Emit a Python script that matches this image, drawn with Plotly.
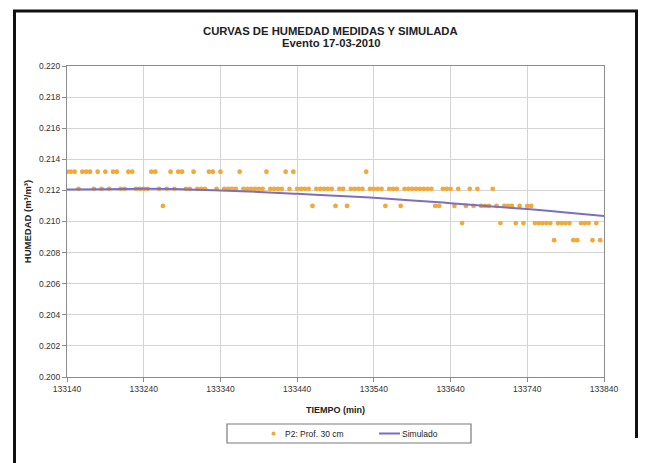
import plotly.graph_objects as go

# ---- data ----
t_start = 133140
t_step = 5
humedad_medida = [
    0.2132, 0.2132, 0.2132, 0.2121, 0.2132, 0.2132, 0.2132, 0.2121, 0.2132, 0.2121,  # 133140-133185
    0.2132, 0.2121, 0.2132, 0.2132, 0.2121, 0.2121, 0.2132, 0.2132, 0.2121, 0.2121,  # 133190-133235
    0.2121, 0.2121, 0.2132, 0.2132, 0.2121, 0.2110, 0.2121, 0.2132, 0.2121, 0.2132,  # 133240-133285
    0.2132, 0.2121, 0.2121, 0.2132, 0.2121, 0.2121, 0.2121, 0.2132, 0.2132, 0.2121,  # 133290-133335
    0.2132, 0.2121, 0.2121, 0.2121, 0.2121, 0.2132, 0.2121, 0.2121, 0.2121, 0.2121,  # 133340-133385
    0.2121, 0.2121, 0.2132, 0.2121, 0.2121, 0.2121, 0.2121, 0.2132, 0.2121, 0.2132,  # 133390-133435
    0.2121, 0.2121, 0.2121, 0.2121, 0.2110, 0.2121, 0.2121, 0.2121, 0.2121, 0.2121,  # 133440-133485
    0.2110, 0.2121, 0.2121, 0.2110, 0.2121, 0.2121, 0.2121, 0.2121, 0.2132, 0.2121,  # 133490-133535
    0.2121, 0.2121, 0.2121, 0.2110, 0.2121, 0.2121, 0.2121, 0.2110, 0.2121, 0.2121,  # 133540-133585
    0.2121, 0.2121, 0.2121, 0.2121, 0.2121, 0.2121, 0.2110, 0.2110, 0.2121, 0.2121,  # 133590-133635
    0.2121, 0.2110, 0.2121, 0.2099, 0.2110, 0.2121, 0.2110, 0.2121, 0.2110, 0.2110,  # 133640-133685
    0.2110, 0.2121, 0.2110, 0.2099, 0.2110, 0.2110, 0.2110, 0.2099, 0.2110, 0.2099,  # 133690-133735
    0.2110, 0.2110, 0.2099, 0.2099, 0.2099, 0.2099, 0.2099, 0.2088, 0.2099, 0.2099,  # 133740-133785
    0.2099, 0.2099, 0.2088, 0.2088, 0.2099, 0.2099, 0.2099, 0.2088, 0.2099, 0.2088,  # 133790-133835
]
tiempo_medido = [t_start + i * t_step for i in range(len(humedad_medida))]

tiempo_sim = [133140, 133190, 133240, 133290, 133340, 133390, 133440, 133490,
              133540, 133590, 133640, 133690, 133740, 133790, 133840]
humedad_sim = [0.21205, 0.21208, 0.21210, 0.21208, 0.21200, 0.21190, 0.21178, 0.21165,
               0.21152, 0.21135, 0.21118, 0.21098, 0.21080, 0.21058, 0.21035]

x_ticks = [133140, 133240, 133340, 133440, 133540, 133640, 133740, 133840]

titulo_1 = "CURVAS DE HUMEDAD MEDIDAS Y SIMULADA"
titulo_2 = "Evento 17-03-2010"
serie_medida = "P2: Prof. 30 cm"
serie_sim = "Simulado"

FONT = "Arial, 'Liberation Sans', sans-serif"
C_MED = "#F2A93B"
C_SIM = "#7B6FBF"

fig = go.Figure()
fig.add_trace(go.Scatter(
    x=tiempo_medido, y=humedad_medida, mode="markers", name=serie_medida,
    marker=dict(color=C_MED, size=4.8, line=dict(width=0)),
))
fig.add_trace(go.Scatter(
    x=tiempo_sim, y=humedad_sim, mode="lines", name=serie_sim,
    line=dict(color=C_SIM, width=2, shape="spline"),
))

L, R = 67, 604
T, B = 66, 377
W, H = 648, 463

def px2x(px):
    return (px - L) / (R - L)

def py2y(py):
    return (B - py) / (B - T)

# outer black frame
frame = dict(color="#111111", width=3)
fig.add_shape(type="line", xref="paper", yref="paper", x0=px2x(13), x1=px2x(638),
              y0=py2y(11), y1=py2y(11), line=frame)
fig.add_shape(type="line", xref="paper", yref="paper", x0=px2x(14.5), x1=px2x(14.5),
              y0=py2y(11), y1=py2y(463), line=frame)
fig.add_shape(type="line", xref="paper", yref="paper", x0=px2x(636.5), x1=px2x(636.5),
              y0=py2y(11), y1=py2y(438), line=frame)

# legend box (drawn by hand to match the original layout)
fig.add_shape(type="rect", xref="paper", yref="paper",
              x0=px2x(227), x1=px2x(471), y0=py2y(424), y1=py2y(443),
              line=dict(color="#7a7a7a", width=1.2), fillcolor="white")
fig.add_shape(type="circle", xref="paper", yref="paper",
              x0=px2x(271.5), x1=px2x(275.5), y0=py2y(431.5), y1=py2y(435.5),
              line=dict(width=0), fillcolor=C_MED)
fig.add_shape(type="line", xref="paper", yref="paper",
              x0=px2x(379), x1=px2x(400), y0=py2y(433.5), y1=py2y(433.5),
              line=dict(color=C_SIM, width=2))
fig.add_annotation(text=serie_medida, xref="paper", yref="paper", x=px2x(283), y=py2y(433.5),
                   xanchor="left", yanchor="middle", showarrow=False,
                   font=dict(family=FONT, size=8.5, color="#222222"))
fig.add_annotation(text=serie_sim, xref="paper", yref="paper", x=px2x(400), y=py2y(433.5),
                   xanchor="left", yanchor="middle", showarrow=False,
                   font=dict(family=FONT, size=8.5, color="#222222"))

# title (two lines placed individually)
fig.add_annotation(text="<b>" + titulo_1 + "</b>", xref="paper", yref="paper",
                   x=px2x(330), y=py2y(31), xanchor="center", yanchor="middle",
                   showarrow=False, font=dict(family=FONT, size=11.3, color="#222222"))
fig.add_annotation(text="<b>" + titulo_2 + "</b>", xref="paper", yref="paper",
                   x=px2x(331), y=py2y(43.5), xanchor="center", yanchor="middle",
                   showarrow=False, font=dict(family=FONT, size=11.3, color="#222222"))

fig.update_layout(
    width=W, height=H,
    margin=dict(l=L, r=W - R, t=T, b=H - B),
    paper_bgcolor="white", plot_bgcolor="white",
    font=dict(family=FONT, size=9, color="#333333"),
    showlegend=False,
    xaxis=dict(
        range=[133140, 133840], tickvals=x_ticks, ticktext=[str(v) for v in x_ticks],
        showgrid=True, gridcolor="#d4d4d4", gridwidth=1,
        showline=True, linecolor="#8c8c8c", linewidth=1, mirror=True,
        ticks="outside", ticklen=4, tickcolor="#8c8c8c",
        tickfont=dict(family=FONT, size=8.5, color="#333333"),
        title=dict(text="<b>TIEMPO (min)</b>", standoff=13,
                   font=dict(family=FONT, size=9, color="#222222")),
        zeroline=False, automargin=False,
    ),
    yaxis=dict(
        range=[0.200, 0.220], dtick=0.002, tick0=0.200, tickformat=".3f",
        showgrid=True, gridcolor="#d4d4d4", gridwidth=1,
        showline=True, linecolor="#8c8c8c", linewidth=1, mirror=True,
        ticks="outside", ticklen=4, tickcolor="#8c8c8c",
        tickfont=dict(family=FONT, size=8.5, color="#333333"),
        title=dict(text="<b>HUMEDAD (m³/m³)</b>", standoff=5,
                   font=dict(family=FONT, size=9.5, color="#222222")),
        zeroline=False, automargin=False,
    ),
)

fig.write_html("out.html", config={"displayModeBar": False},
               post_script="document.body.style.margin='0';document.body.style.padding='0';")
